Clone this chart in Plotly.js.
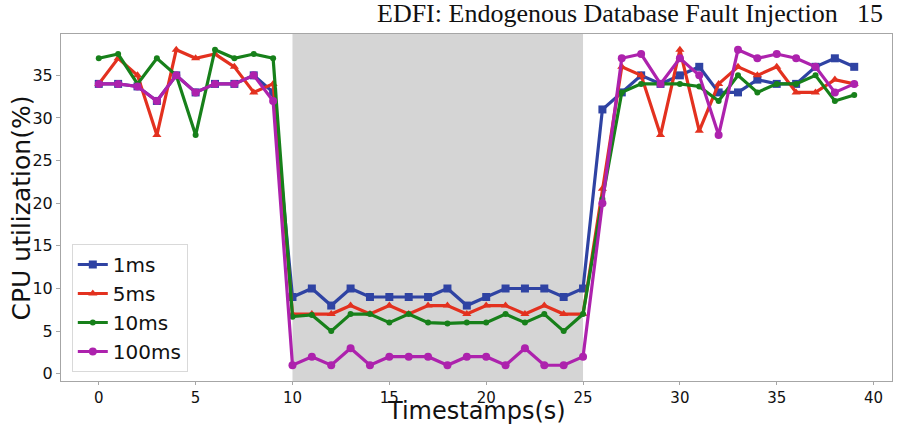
<!DOCTYPE html>
<html>
<head>
<meta charset="utf-8">
<script src="https://cdn.plot.ly/plotly-3.0.1.min.js"></script>
<style>html,body{margin:0;padding:0;background:#fff;}#chart{width:904px;height:426px;}</style>
</head>
<body>
<div id="chart"></div>
<script>
const timestamps = Array.from({length: 40}, (_, i) => i);
const seriesNames = ['1ms', '5ms', '10ms', '100ms'];
const ms1 = [34, 34, 33.7, 32, 35, 33, 34, 34, 35, 33, 9, 10, 8, 10, 9, 9, 9, 9, 10, 8, 9, 10, 10, 10, 9, 10, 31, 33, 35, 34, 35, 36, 33, 33, 34.5, 34, 34, 36, 37, 36];
const ms5 = [34, 37, 35, 28, 38, 37, 37.5, 36, 33, 34, 7, 7, 7, 8, 7, 8, 7, 8, 8, 7, 8, 8, 7, 8, 7, 7, 21.7, 36, 35, 28, 38, 28.5, 34, 36, 35, 36, 33, 33, 34.5, 34];
const ms10 = [37, 37.5, 34, 37, 35, 28, 38, 37, 37.5, 37, 6.7, 6.9, 5, 7, 7, 6, 7, 6, 5.9, 6, 6, 7, 6, 7, 5, 7, 20.5, 33, 34, 34, 34, 33.7, 32, 35, 33, 34, 34, 35, 32, 32.7];
const ms100 = [34, 34, 33.7, 32, 35, 33, 34, 34, 35, 32, 1, 2, 1, 3, 1, 2, 2, 2, 1, 2, 2, 1, 3, 1, 1, 2, 20, 37, 37.5, 34, 37, 35, 28, 38, 37, 37.5, 37, 36, 33, 34];
const faultWindow = [10, 25];
const xTicks = [0, 5, 10, 15, 20, 25, 30, 35, 40];
const yTicks = [0, 5, 10, 15, 20, 25, 30, 35];
const xTitle = 'Timestamps(s)';
const yTitle = 'CPU utilization(%)';
const headerText = 'EDFI: Endogenous Database Fault Injection';
const pageNumber = '15';

const styles = [
  {color: '#2f43a3', symbol: 'square', size: 8},
  {color: '#e3311f', symbol: 'triangle-up', size: 8},
  {color: '#17801a', symbol: 'circle', size: 6},
  {color: '#ad22ad', symbol: 'circle', size: 8}
];
const values = [ms1, ms5, ms10, ms100];

const traces = values.map((v, i) => ({
  x: timestamps, y: v, name: seriesNames[i], type: 'scatter', mode: 'lines+markers',
  line: {color: styles[i].color, width: 3.2},
  marker: {color: styles[i].color, symbol: styles[i].symbol, size: styles[i].size}
}));

const axisCommon = {
  showgrid: false, zeroline: false, showline: true, mirror: true,
  linecolor: '#a6a6a6', linewidth: 1, ticks: 'outside', ticklen: 4, tickcolor: '#a6a6a6',
  tickfont: {family: 'DejaVu Sans', size: 16, color: '#111'}
};

const layout = {
  width: 904, height: 426,
  margin: {l: 61, r: 12, t: 34, b: 45},
  paper_bgcolor: '#fff', plot_bgcolor: '#fff',
  showlegend: true,
  legend: {
    x: 0.013, y: 0.026, xanchor: 'left', yanchor: 'bottom',
    bgcolor: '#fff', bordercolor: '#d9d9d9', borderwidth: 1,
    font: {family: 'DejaVu Sans', size: 20, color: '#111'},
    tracegroupgap: 0
  },
  xaxis: Object.assign({}, axisCommon, {
    range: [-1.95, 40.95], tickvals: xTicks, ticktext: xTicks.map(String),
    ticklen: 3, tickfont: {family: 'DejaVu Sans', size: 15, color: '#111'}
  }),
  yaxis: Object.assign({}, axisCommon, {
    range: [-0.85, 39.85], tickvals: yTicks, ticktext: yTicks.map(String)
  }),
  shapes: [{
    type: 'rect', xref: 'x', yref: 'paper', x0: faultWindow[0], x1: faultWindow[1], y0: 0, y1: 1,
    fillcolor: '#d5d5d5', line: {width: 0}, layer: 'below'
  }],
  annotations: [
    {text: xTitle, xref: 'paper', yref: 'paper', x: 0.5, y: -0.0865, xanchor: 'center', yanchor: 'middle',
     showarrow: false, font: {family: 'DejaVu Sans', size: 24, color: '#111'}},
    {text: yTitle, xref: 'paper', yref: 'paper', x: -0.047, y: 0.5, xanchor: 'center', yanchor: 'middle',
     textangle: -90, showarrow: false, font: {family: 'DejaVu Sans', size: 25, color: '#111'}},
    {text: headerText, xref: 'paper', yref: 'paper', x: 0.9374, y: 1.058, xanchor: 'right', yanchor: 'middle',
     showarrow: false, font: {family: 'Liberation Serif', size: 26, color: '#111'}},
    {text: pageNumber, xref: 'paper', yref: 'paper', x: 0.9916, y: 1.058, xanchor: 'right', yanchor: 'middle',
     showarrow: false, font: {family: 'Liberation Serif', size: 26, color: '#111'}}
  ]
};

Plotly.newPlot('chart', traces, layout, {displayModeBar: false, staticPlot: true});
</script>
</body>
</html>
